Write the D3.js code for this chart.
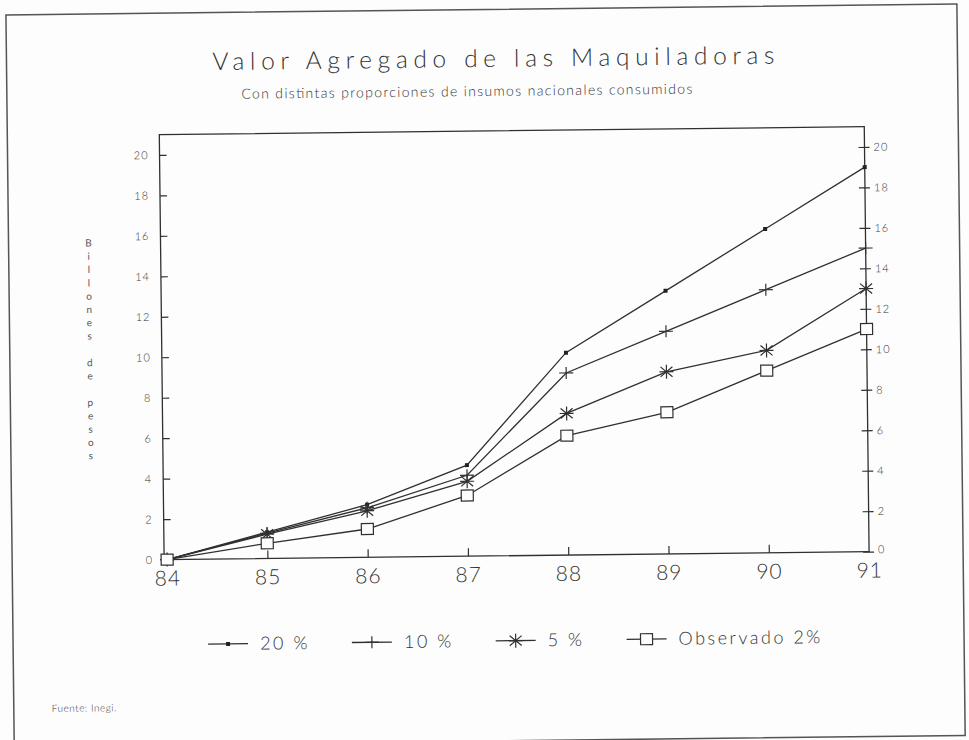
<!DOCTYPE html>
<html>
<head>
<meta charset="utf-8">
<script src="https://cdn.jsdelivr.net/npm/d3@7"></script>
<style>
  body { margin: 0; background: #fdfdfd; }
  svg { display: block; }
  text { font-family: Lato, "DejaVu Sans", sans-serif; font-weight: 300; fill: #333; }
</style>
</head>
<body>
<svg id="chart" width="969" height="740"></svg>
<script>
// data (billones de pesos)
const years = [84, 85, 86, 87, 88, 89, 90, 91];
const serie20 = [0, 1.3, 2.6, 4.5, 10, 13, 16, 19];
const serie10 = [0, 1.25, 2.45, 4.0, 9, 11, 13, 15];
const serie5 = [0, 1.2, 2.3, 3.7, 7, 9, 10, 13];
const serieObs = [0, 0.75, 1.4, 3.0, 5.9, 7, 9, 11];
const seriesNames = ["20 %", "10 %", "5 %", "Observado 2%"];
const markerTypes = ["dot", "plus", "star", "square"];
const yTicks = [0, 2, 4, 6, 8, 10, 12, 14, 16, 18, 20];
const titleText = "Valor Agregado de las Maquiladoras";
const subtitleText = "Con distintas proporciones de insumos nacionales consumidos";
const yLabelText = "Billones de pesos";
const sourceText = "Fuente: Inegi.";

const allSeries = [serie20, serie10, serie5, serieObs];
const ink = "#303030";

const svg = d3.select("#chart");
// the original is a slightly skewed scan, so everything sits in a tilted group
const root = svg.append("g").attr("transform", "rotate(-0.65 484 370)");

root.append("rect")
    .attr("x", 10).attr("y", 9.5)
    .attr("width", 951).attr("height", 731.5)
    .attr("fill", "none").attr("stroke", "#555").attr("stroke-width", 1.5);

const plot = { left: 162, right: 867, top: 131, bottom: 556 };

const x = d3.scaleLinear().domain([84, 91]).range([165, plot.right]);
const y = d3.scaleLinear().domain([0, 21]).range([plot.bottom, plot.top]);

// titles
root.append("text")
    .attr("x", 497).attr("y", 67)
    .attr("text-anchor", "middle")
    .attr("font-size", 24.5)
    .attr("textLength", 562).attr("lengthAdjust", "spacing")
    .text(titleText);

root.append("text")
    .attr("x", 470).attr("y", 96)
    .attr("text-anchor", "middle")
    .attr("font-size", 14)
    .attr("textLength", 451).attr("lengthAdjust", "spacing")
    .text(subtitleText);

// plot box
root.append("rect")
    .attr("x", plot.left).attr("y", plot.top)
    .attr("width", plot.right - plot.left).attr("height", plot.bottom - plot.top)
    .attr("fill", "none").attr("stroke", ink).attr("stroke-width", 1.3);

// left axis, ticks pointing in
const leftAxis = root.append("g")
    .attr("transform", `translate(${plot.left},0)`)
    .call(d3.axisLeft(y).tickValues(yTicks).tickSize(-7).tickPadding(11));
leftAxis.select(".domain").remove();
leftAxis.selectAll(".tick line").attr("stroke", ink).attr("stroke-width", 1.2);
leftAxis.selectAll(".tick text").attr("font-size", 11).attr("letter-spacing", 1)
    .attr("font-family", null).style("fill", "#333");

// right axis, ticks crossing the line
const rightAxis = root.append("g")
    .attr("transform", `translate(${plot.right},0)`)
    .call(d3.axisRight(y).tickValues(yTicks).tickSize(5).tickPadding(4));
rightAxis.select(".domain").remove();
rightAxis.selectAll(".tick line").attr("x1", -6).attr("stroke", ink).attr("stroke-width", 1.2);
rightAxis.selectAll(".tick text").attr("font-size", 11).attr("letter-spacing", 1)
    .attr("font-family", null).style("fill", "#333")
    .attr("dy", d => d === 0 ? "0.1em" : "0.32em");

// bottom axis
const bottomAxis = root.append("g")
    .attr("transform", `translate(0,${plot.bottom})`)
    .call(d3.axisBottom(x).tickValues(years).tickFormat(d3.format("d")).tickSize(-8).tickPadding(11));
bottomAxis.select(".domain").remove();
bottomAxis.selectAll(".tick line")
    .attr("stroke", ink).attr("stroke-width", 1.2)
    .attr("display", d => (d === years[0] || d === years[years.length - 1]) ? "none" : null);
bottomAxis.selectAll(".tick text").attr("font-size", 21).attr("letter-spacing", 1)
    .attr("font-family", null).style("fill", "#333");

// vertical stacked y label
const yLabel = root.append("text")
    .attr("text-anchor", "middle")
    .attr("font-size", 10)
    .style("font-weight", 400)
    .style("fill", "#555");
yLabel.selectAll("tspan")
    .data(yLabelText.split(""))
    .join("tspan")
    .attr("x", 90)
    .attr("y", (d, i) => 242 + i * 13.3)
    .text(d => d === " " ? "\u00a0" : d);

// markers
function drawMarker(sel, type) {
    if (type === "dot") {
        sel.append("rect").attr("x", -2).attr("y", -2).attr("width", 4).attr("height", 4)
            .attr("fill", "#222");
    } else if (type === "plus") {
        sel.append("path").attr("d", "M-7,0H7M0,-6V6")
            .attr("stroke", ink).attr("stroke-width", 1.2).attr("fill", "none");
    } else if (type === "star") {
        sel.append("path").attr("d", "M0,-7V7M-7,0H7M-6,-5L6,5M-6,5L6,-5")
            .attr("stroke", ink).attr("stroke-width", 1.2).attr("fill", "none");
    } else if (type === "square") {
        sel.append("rect").attr("x", -6).attr("y", -5.5).attr("width", 12).attr("height", 11)
            .attr("fill", "#fdfdfd").attr("stroke", ink).attr("stroke-width", 1.2);
    }
}

const line = d3.line().x(d => x(d[0])).y(d => y(d[1]));

allSeries.forEach((vals, si) => {
    const pts = years.map((yr, i) => [yr, vals[i]]);
    root.append("path")
        .datum(pts)
        .attr("d", line)
        .attr("fill", "none")
        .attr("stroke", ink)
        .attr("stroke-width", 1.3);
    root.append("g").selectAll("g")
        .data(pts)
        .join("g")
        .attr("transform", d => `translate(${x(d[0])},${y(d[1])})`)
        .each(function () { drawMarker(d3.select(this), markerTypes[si]); });
});

// legend
const legend = root.append("g").attr("transform", "translate(205,641)");
let lx = 0;
seriesNames.forEach((name, i) => {
    const item = legend.append("g").attr("transform", `translate(${lx},0)`);
    item.append("line").attr("x1", 0).attr("x2", 40)
        .attr("stroke", ink).attr("stroke-width", 1.3);
    drawMarker(item.append("g").attr("transform", "translate(20,0)"), markerTypes[i]);
    const t = item.append("text")
        .attr("x", 52).attr("y", 6)
        .attr("font-size", 18).attr("letter-spacing", 2.5)
        .text(name);
    lx += 52 + t.node().getComputedTextLength() + 42;
});

// source note
root.append("text")
    .attr("x", 48).attr("y", 707)
    .attr("font-size", 10).attr("letter-spacing", 0.5)
    .text(sourceText);
</script>
</body>
</html>
